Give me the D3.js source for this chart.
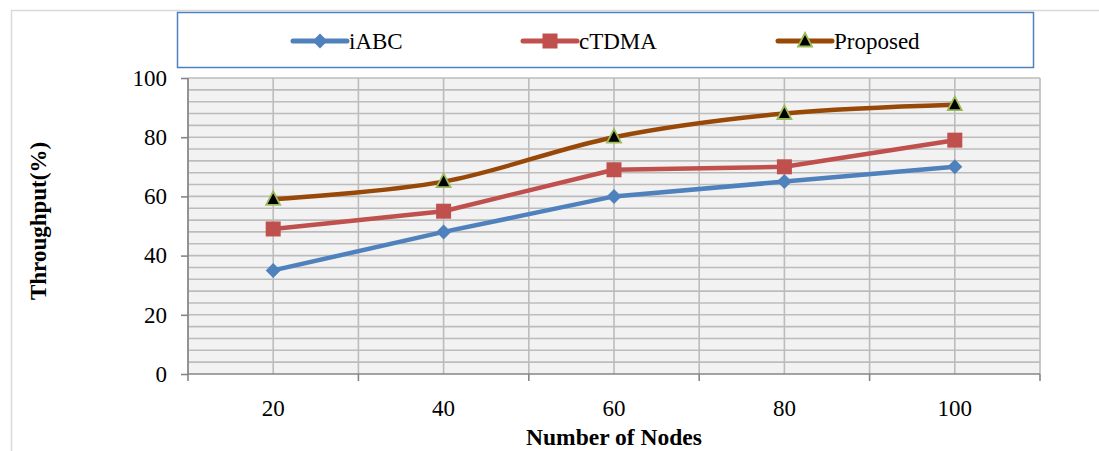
<!DOCTYPE html>
<html>
<head>
<meta charset="utf-8">
<script src="https://cdn.jsdelivr.net/npm/d3@7"></script>
<style>
  body { margin: 0; background: #fff; }
  svg { display: block; font-family: "Liberation Serif", "Times New Roman", serif; }
</style>
</head>
<body>
<svg id="chart" width="1099" height="451"></svg>
<script>
var nodes = [20, 40, 60, 80, 100];
var iabc = [35, 48, 60, 65, 70];
var ctdma = [49, 55, 69, 70, 79];
var proposed = [59, 65, 80, 88, 91];
var yTicks = [0, 20, 40, 60, 80, 100];
var seriesNames = ["iABC", "cTDMA", "Proposed"];

var series = [
  {name: seriesNames[0], values: iabc, color: "#4f81bd", marker: "diamond"},
  {name: seriesNames[1], values: ctdma, color: "#c0504d", marker: "square"},
  {name: seriesNames[2], values: proposed, color: "#984807", marker: "triangle"}
];

var margin = {top: 78, left: 188},
    width = 1040 - 188,
    height = 374 - 78;

var svg = d3.select("#chart");

// outer frame (only top and left edges show)
svg.append("line").attr("x1", 11).attr("x2", 1099).attr("y1", 10.5).attr("y2", 10.5)
  .attr("stroke", "#d9d9d9").attr("stroke-width", 1.5);
svg.append("line").attr("x1", 11.5).attr("x2", 11.5).attr("y1", 10).attr("y2", 451)
  .attr("stroke", "#d9d9d9").attr("stroke-width", 1.5);

var x = d3.scaleBand().domain(nodes).range([0, width]);
var y = d3.scaleLinear().domain([0, 100]).range([height, 0]);
var cx = function(d) { return x(d) + x.bandwidth() / 2; };

var main = svg.append("g").attr("transform", "translate(" + margin.left + "," + margin.top + ")");

main.append("rect").attr("width", width).attr("height", height).attr("fill", "#f2f2f2");

// horizontal grid every 4 units
main.append("g").selectAll("line")
  .data(d3.range(4, 101, 4))
  .enter().append("line")
    .attr("x1", 0).attr("x2", width)
    .attr("y1", function(d) { return y(d); })
    .attr("y2", function(d) { return y(d); })
    .attr("stroke", "#bcbcbc").attr("stroke-width", 1.6);

// vertical grid at band edges and centres
var vx = [];
nodes.forEach(function(n) { vx.push(x(n)); vx.push(cx(n)); });
vx.push(width);
main.append("g").selectAll("line")
  .data(vx)
  .enter().append("line")
    .attr("x1", function(d) { return d; }).attr("x2", function(d) { return d; })
    .attr("y1", 0).attr("y2", height)
    .attr("stroke", "#bcbcbc").attr("stroke-width", 1.6);

// y axis
var yAxis = d3.axisLeft(y).tickValues(yTicks).tickSize(7).tickPadding(14);
var gy = main.append("g").call(yAxis);
gy.select(".domain").attr("stroke", "#868686").attr("stroke-width", 1.6).attr("d", "M0,0V" + height);
gy.selectAll(".tick line").attr("stroke", "#868686").attr("stroke-width", 1.6);
gy.selectAll("text").attr("font-size", 23).attr("font-family", "Liberation Serif").attr("fill", "#000");

// x axis: ticks at band edges, labels at centres
var gx = main.append("g").attr("transform", "translate(0," + height + ")");
gx.append("line").attr("x1", 0).attr("x2", width).attr("y1", 0).attr("y2", 0)
  .attr("stroke", "#868686").attr("stroke-width", 1.6);
gx.selectAll(".xt").data(vx.filter(function(d, i) { return i % 2 === 0; }))
  .enter().append("line").attr("class", "xt")
    .attr("x1", function(d) { return d; }).attr("x2", function(d) { return d; })
    .attr("y1", 0).attr("y2", 7)
    .attr("stroke", "#868686").attr("stroke-width", 1.6);
gx.selectAll("text").data(nodes).enter().append("text")
  .attr("x", cx).attr("y", 42)
  .attr("text-anchor", "middle").attr("font-size", 23)
  .text(function(d) { return d; });

// axis titles
svg.append("text").attr("x", 614).attr("y", 445).attr("text-anchor", "middle")
  .attr("font-size", 23.5).attr("font-weight", "bold").text("Number of Nodes");
svg.append("text").attr("transform", "translate(46,221) rotate(-90)").attr("text-anchor", "middle")
  .attr("font-size", 23).attr("font-weight", "bold").text("Throughput(%)");

function drawMarker(g, type, color, px, py) {
  if (type === "diamond") {
    g.append("path").attr("d", "M" + px + "," + (py - 7.5) + "L" + (px + 7.5) + "," + py +
      "L" + px + "," + (py + 7.5) + "L" + (px - 7.5) + "," + py + "Z").attr("fill", color);
  } else if (type === "square") {
    g.append("rect").attr("x", px - 7.5).attr("y", py - 7.5).attr("width", 15).attr("height", 15)
      .attr("fill", color);
  } else {
    g.append("path").attr("d", "M" + px + "," + (py - 8) + "L" + (px + 7) + "," + (py + 5.5) +
      "L" + (px - 7) + "," + (py + 5.5) + "Z")
      .attr("fill", "#000").attr("stroke", "#9bbb59").attr("stroke-width", 1.8);
  }
}

series.forEach(function(s) {
  var line = d3.line()
    .x(function(d, i) { return cx(nodes[i]); })
    .y(function(d) { return y(d); })
    .curve(s.marker === "triangle" ? d3.curveCatmullRom : d3.curveLinear);
  main.append("path").datum(s.values).attr("d", line)
    .attr("fill", "none").attr("stroke", s.color).attr("stroke-width", 4.5)
    .attr("stroke-linejoin", "round");
  var mg = main.append("g");
  s.values.forEach(function(v, i) { drawMarker(mg, s.marker, s.color, cx(nodes[i]), y(v)); });
});

// legend
svg.append("rect").attr("x", 177.5).attr("y", 12.5).attr("width", 856).attr("height", 55)
  .attr("fill", "#fff").attr("stroke", "#4f81bd").attr("stroke-width", 1.5);
var legX = [293, 523, 778];
series.forEach(function(s, i) {
  var lg = svg.append("g");
  lg.append("line").attr("x1", legX[i]).attr("x2", legX[i] + 54).attr("y1", 41).attr("y2", 41)
    .attr("stroke", s.color).attr("stroke-width", 5).attr("stroke-linecap", "round");
  drawMarker(lg, s.marker, s.color, legX[i] + 27, 41);
  lg.append("text").attr("x", legX[i] + 56).attr("y", 49).attr("font-size", 23).text(s.name);
});
</script>
</body>
</html>
